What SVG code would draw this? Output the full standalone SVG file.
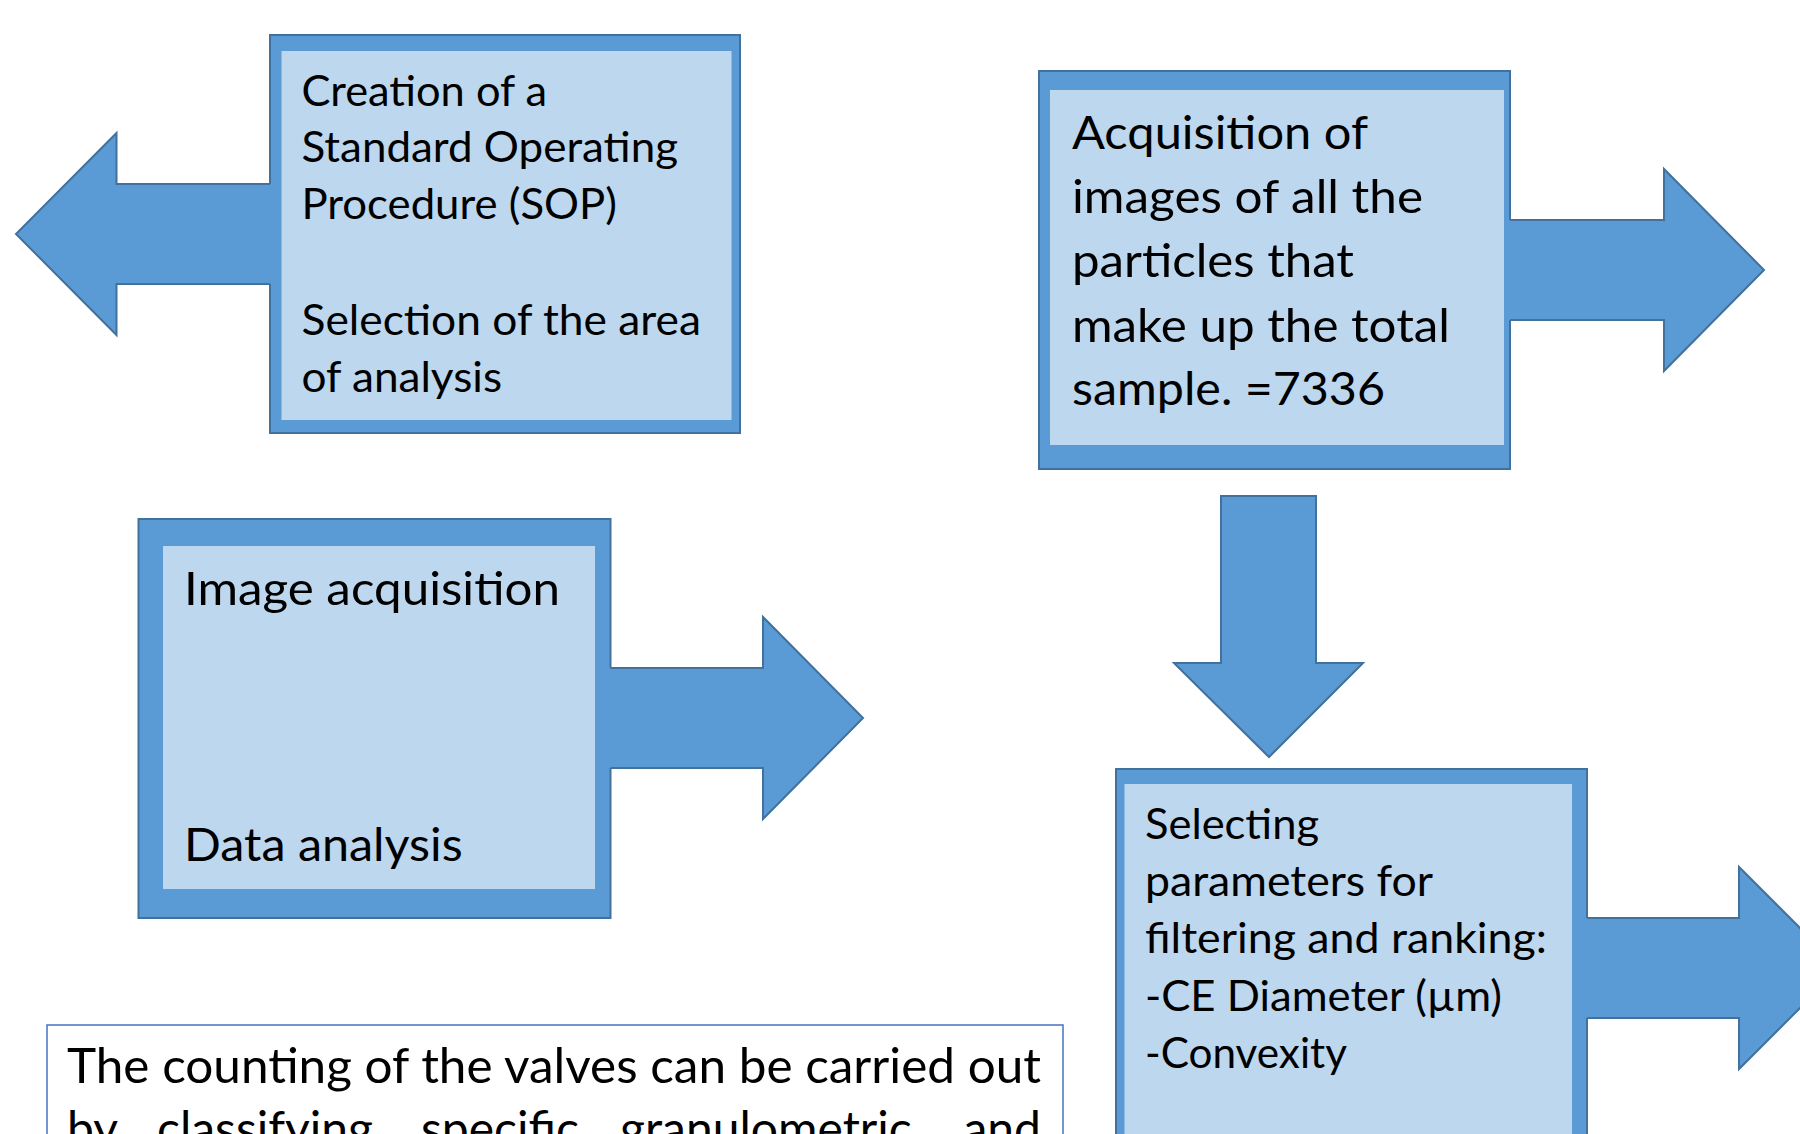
<svg xmlns="http://www.w3.org/2000/svg" width="1800" height="1134" viewBox="0 0 1800 1134">
<style>
.frame{fill:#5B9BD5;stroke:#41719C;stroke-width:2}
.inner{fill:#BDD7EE}
.afill{fill:#5B9BD5;stroke:none}
.aline{fill:none;stroke:#41719C;stroke-width:2;stroke-linejoin:miter}
.arrow{fill:#5B9BD5;stroke:#41719C;stroke-width:2}
.t{font-family:Lato,'Open Sans','Liberation Sans',sans-serif;fill:#000}
.s42{font-size:42px}
.s47{font-size:47px}
.s48{font-size:48px}
.note{fill:#FFFFFF;stroke:#4472C4;stroke-width:1.5}
</style>
<rect width="1800" height="1134" fill="#FFFFFF"/>
<g id="node-sop">
<rect class="frame" x="270" y="35" width="470" height="398"/>
<rect class="inner" x="281.5" y="51" width="450" height="369"/>
<g class="t s42">
<text x="301.5" y="105.7" textLength="245.5" lengthAdjust="spacingAndGlyphs">Creation of a</text>
<text x="301.5" y="162.2" textLength="376.5" lengthAdjust="spacingAndGlyphs">Standard Operating</text>
<text x="301.5" y="218.7" textLength="315.5" lengthAdjust="spacingAndGlyphs">Procedure (SOP)</text>
<text x="301.5" y="334.5" textLength="399.5" lengthAdjust="spacingAndGlyphs">Selection of the area</text>
<text x="301.5" y="391.5" textLength="200.5" lengthAdjust="spacingAndGlyphs">of analysis</text>
</g>
</g>
<g id="node-acquisition">
<rect class="frame" x="1039" y="71" width="471" height="398"/>
<rect class="inner" x="1050" y="90" width="454" height="355"/>
<g class="t s47">
<text x="1072" y="149" textLength="296" lengthAdjust="spacingAndGlyphs">Acquisition of</text>
<text x="1072" y="213" textLength="351" lengthAdjust="spacingAndGlyphs">images of all the</text>
<text x="1072" y="277" textLength="282" lengthAdjust="spacingAndGlyphs">particles that</text>
<text x="1072" y="342" textLength="378" lengthAdjust="spacingAndGlyphs">make up the total</text>
<text x="1072" y="405" textLength="313" lengthAdjust="spacingAndGlyphs">sample. =7336</text>
</g>
</g>
<g id="node-image">
<rect class="frame" x="138.5" y="519" width="472" height="399"/>
<rect class="inner" x="163" y="546" width="432" height="343"/>
<g class="t s47">
<text x="184" y="605" textLength="376" lengthAdjust="spacingAndGlyphs">Image acquisition</text>
<text x="184" y="861" textLength="278.7" lengthAdjust="spacingAndGlyphs">Data analysis</text>
</g>
</g>
<g id="node-params">
<rect class="frame" x="1116" y="769" width="471" height="430"/>
<rect class="inner" x="1124.5" y="784" width="447.5" height="400"/>
<g class="t s42">
<text x="1145" y="839" textLength="174" lengthAdjust="spacingAndGlyphs">Selecting</text>
<text x="1145" y="896" textLength="288" lengthAdjust="spacingAndGlyphs">parameters for</text>
<text x="1145" y="953" textLength="402" lengthAdjust="spacingAndGlyphs">filtering and ranking:</text>
<text x="1145" y="1011" textLength="357" lengthAdjust="spacingAndGlyphs">-CE Diameter (µm)</text>
<text x="1145" y="1068" textLength="202" lengthAdjust="spacingAndGlyphs">-Convexity</text>
</g>
</g>
<g id="node-note">
<rect class="note" x="47" y="1025" width="1016" height="200"/>
<g class="t s48">
<text x="67" y="1083" textLength="974" lengthAdjust="spacingAndGlyphs">The counting of the valves can be carried out</text>
<text y="1146"><tspan x="67">by</tspan><tspan x="157">classifying</tspan><tspan x="421">specific</tspan><tspan x="620">granulometric</tspan><tspan x="1041" text-anchor="end">and</tspan></text>
</g>
</g>
<g id="connectors">
<path class="afill" d="M272,184 L116.5,184 L116.5,133 L16,234 L116.5,335 L116.5,284 L272,284 Z"/>
<path class="aline" d="M270,184 L116.5,184 L116.5,133 L16,234 L116.5,335 L116.5,284 L270,284"/>
<path class="afill" d="M1508,220 L1664,220 L1664,169 L1764,270 L1664,371 L1664,320 L1508,320 Z"/>
<path class="aline" d="M1510,220 L1664,220 L1664,169 L1764,270 L1664,371 L1664,320 L1510,320"/>
<path class="afill" d="M608.5,668 L763,668 L763,617 L863,718 L763,819 L763,768 L608.5,768 Z"/>
<path class="aline" d="M610.5,668 L763,668 L763,617 L863,718 L763,819 L763,768 L610.5,768"/>
<path class="afill" d="M1585,918 L1739,918 L1739,867 L1840,968 L1739,1069 L1739,1018 L1585,1018 Z"/>
<path class="aline" d="M1587,918 L1739,918 L1739,867 L1840,968 L1739,1069 L1739,1018 L1587,1018"/>
<path class="arrow" d="M1221,496 L1316,496 L1316,663 L1363,663 L1269,757 L1174,663 L1221,663 Z"/>
</g>
</svg>
